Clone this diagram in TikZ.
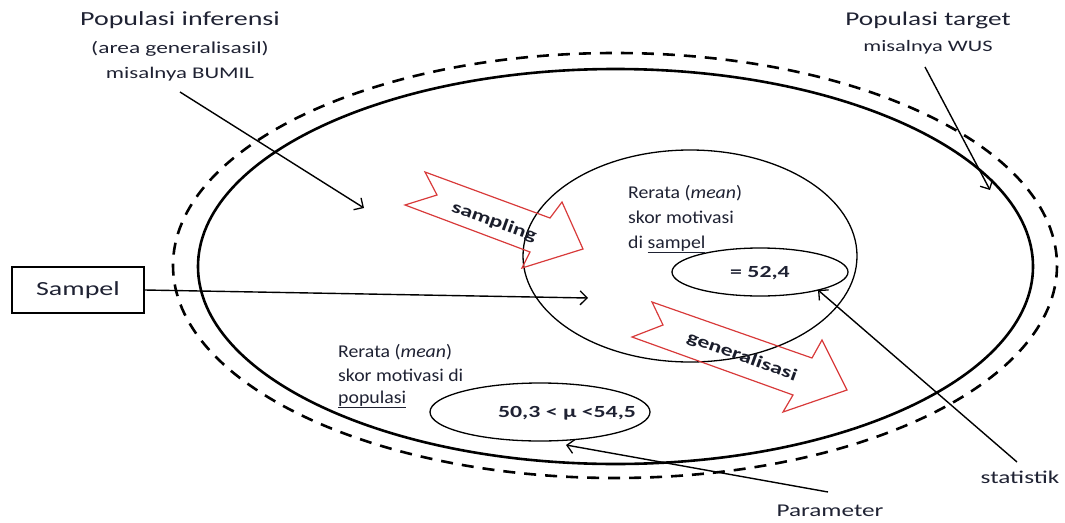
\documentclass[tikz,border=0pt]{standalone}
\usepackage{fontspec}
\setmainfont{Carlito}[FakeStretch=1.4]
\newfontfamily\narrowlbl{Carlito}[FakeStretch=1.1]
\usetikzlibrary{arrows.meta,shapes.geometric}
\definecolor{ink}{HTML}{1F2233}
\definecolor{arrowred}{HTML}{D83A3A}
\newcommand{\fs}[1]{\fontsize{#1}{#1}\selectfont}

\begin{document}
\begin{tikzpicture}[x=1pt,y=-1pt,
  lbl/.style={text=ink,inner sep=0pt},
  meanlbl/.style={lbl,anchor=base west,font=\narrowlbl\fs{18}},
  ptr/.style={line width=1.4pt,-{Straight Barb[length=7pt,width=14pt,line width=1.3pt]}},
  thin ring/.style={draw,line width=1.3pt,ellipse,inner sep=0pt},
  banner/.style={draw=arrowred,line width=1.2pt,line join=miter},
  bannertext/.style={text=ink!85!black,inner sep=0pt,font=\fs{17}\bfseries}]
\useasboundingbox (0,0) rectangle (1065,522);

% target population (dashed) and inference population (solid)
\draw[line width=2.6pt,dash pattern=on 12pt off 9pt] (615,265.5) ellipse [x radius=442,y radius=212.5];
\draw[line width=2.6pt] (615.5,266.5) ellipse [x radius=417.5,y radius=197.5];

% sample region and the two value rings
\node[thin ring,minimum width=334pt,minimum height=212pt] (sample) at (690,256) {};
\node[thin ring,minimum width=176pt,minimum height=48pt] (stat) at (760,272) {};
\node[lbl,font=\fs{17}\bfseries] (statval) at (760,273) {= 52,4};
\node[thin ring,minimum width=220pt,minimum height=58pt] (param) at (540,412) {};
\node[lbl,font=\fs{17}\bfseries] (paramval) at (567,413) {50,3 < μ <54,5};

% headings
\node[lbl,font=\fs{20}] (inf1) at (180,20) {Populasi inferensi};
\node[lbl,font=\fs{16.7}] (inf2) at (180,49) {(area generalisasil)};
\node[lbl,font=\fs{16.3}] (inf3) at (180,74) {misalnya BUMIL};
\node[lbl,font=\fs{19.5}] (tgt1) at (928,20) {Populasi target};
\node[lbl,font=\fs{16}] (tgt2) at (928,47) {misalnya WUS};

% mean labels
\node[meanlbl] (ms1) at (628,198) {Rerata (\textit{mean})};
\node[meanlbl] (ms2) at (628,223) {skor motivasi};
\node[meanlbl] (ms3) at (628,248) {di \underline{sampel}};
\node[meanlbl] (mp1) at (338,357) {Rerata (\textit{mean})};
\node[meanlbl] (mp2) at (338,381) {skor motivasi di};
\node[meanlbl] (mp3) at (338,403) {\underline{populasi}};

% sample box
\node[draw,line width=1.3pt,minimum width=132pt,minimum height=46pt,inner sep=0pt,text=ink,font=\fs{20}] (sampel) at (78,290) {Sampel};

\node[lbl,font=\fs{18}] (par) at (830,511) {Parameter};
\node[lbl,font=\fs{18}] (sta) at (1020,477) {statistik};

% pointer ends
\coordinate (infStart) at (180,92);
\coordinate (infEnd) at (364,208);
\coordinate (tgtStart) at (925,67);
\coordinate (tgtEnd) at (990,190);
\coordinate (smpEnd) at (588,298);
\coordinate (staStart) at (1017,462);
\coordinate (staEnd) at (818,290);
\coordinate (parStart) at (828,492);
\coordinate (parEnd) at (566,445);

\draw[ptr] (infStart) -- (infEnd);
\draw[ptr] (tgtStart) -- (tgtEnd);
\draw[ptr] (sampel.east) -- (smpEnd);
\draw[ptr] (staStart) -- (staEnd);
\draw[ptr] (parStart) -- (parEnd);

% notched block arrows
\draw[banner] (425,172) -- (550,218) -- (562,202) -- (583,249) -- (522,268) -- (530,252) -- (405,205) -- (437,195) -- cycle;
\node[bannertext,rotate=-20] (smpText) at (494,222) {sampling};
\draw[banner] (652,302) -- (812,358) -- (822,340) -- (847,390) -- (783,412) -- (793,395) -- (632,337) -- (663,325) -- cycle;
\node[bannertext,rotate=-20] (genText) at (742,357) {generalisasi};
\end{tikzpicture}
\end{document}
